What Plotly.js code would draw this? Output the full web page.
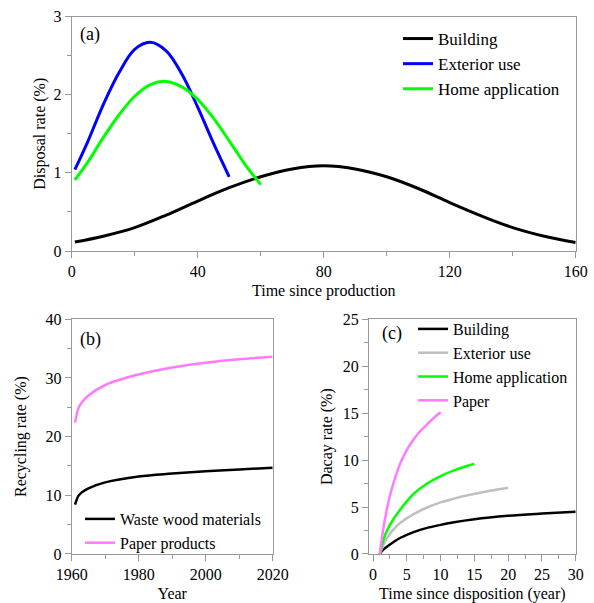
<!DOCTYPE html>
<html>
<head>
<meta charset="utf-8">
<script src="https://cdn.plot.ly/plotly-3.0.1.min.js"></script>
<style>html,body{margin:0;padding:0;background:#fff;}#chart{width:594px;height:603px;}</style>
</head>
<body>
<div id="chart"></div>
<script>
// Panel (a): disposal rate vs time since production
const aBuildingX = [1,10,20,30,40,50,60,70,80,90,100,110,120,130,140,150,160];
const aBuildingY = [0.115,0.19,0.30,0.46,0.64,0.81,0.95,1.05,1.09,1.05,0.95,0.80,0.62,0.45,0.30,0.19,0.11];
const aExteriorX = [1,5,10,15,20,25,30,35,40,45,50];
const aExteriorY = [1.04,1.39,1.87,2.28,2.58,2.67,2.56,2.26,1.84,1.38,0.95];
const aHomeX = [1,5,10,15,20,25,30,35,40,45,50,55,60];
const aHomeY = [0.91,1.13,1.45,1.74,1.98,2.13,2.17,2.10,1.94,1.70,1.41,1.11,0.85];

// Panel (b): recycling rate vs year
const bYears = [1961,1962,1963,1965,1970,1980,1990,2000,2010,2020];
const bWood  = [8.4,9.9,10.5,11.2,12.2,13.2,13.7,14.1,14.4,14.7];
const bPaper = [22.4,24.8,25.8,27.0,28.8,30.6,31.8,32.6,33.2,33.6];

// Panel (c): decay rate vs time since disposition
const cBuildingX = [1,1.5,2,3,4,6,8,10,12,15,20,25,30];
const cBuildingY = [0,0.45,0.75,1.25,1.7,2.33,2.78,3.1,3.38,3.7,4.06,4.3,4.5];
const cExteriorX = [1,1.5,2,3,4,6,8,10,12,14,16,18,20];
const cExteriorY = [0,0.9,1.6,2.6,3.3,4.25,4.95,5.5,5.9,6.25,6.55,6.82,7.05];
const cHomeX = [1,1.5,2,3,4,5,6,8,10,12,14,15];
const cHomeY = [0,1.4,2.4,3.7,4.7,5.6,6.4,7.5,8.3,8.9,9.4,9.6];
const cPaperX = [1,1.5,2,2.5,3,4,5,6,7,8,9,10];
const cPaperY = [0,2.6,4.6,6.2,7.5,9.6,11.1,12.2,13.1,13.8,14.5,15.1];

const FONT = "'Liberation Serif', 'Times New Roman', serif";
const BLACK = '#000000', BLUE = '#0000ff', GREEN = '#00ff00', PINK = '#ff7aff', GREY = '#c0c0c0';

function tr(x, y, name, color, w, xa, ya, leg) {
  return {x: x, y: y, name: name, type: 'scatter', mode: 'lines',
    line: {color: color, width: w, shape: 'spline', smoothing: 1},
    xaxis: xa, yaxis: ya, legend: leg, hoverinfo: 'skip'};
}

const data = [
  tr(aBuildingX, aBuildingY, 'Building', BLACK, 3, 'x', 'y', 'legend'),
  tr(aExteriorX, aExteriorY, 'Exterior use', BLUE, 3, 'x', 'y', 'legend'),
  tr(aHomeX, aHomeY, 'Home application', GREEN, 3, 'x', 'y', 'legend'),
  tr(bYears, bWood, 'Waste wood materials', BLACK, 2.5, 'x2', 'y2', 'legend2'),
  tr(bYears, bPaper, 'Paper products', PINK, 2.5, 'x2', 'y2', 'legend2'),
  tr(cBuildingX, cBuildingY, 'Building', BLACK, 2.5, 'x3', 'y3', 'legend3'),
  tr(cExteriorX, cExteriorY, 'Exterior use', GREY, 2.5, 'x3', 'y3', 'legend3'),
  tr(cHomeX, cHomeY, 'Home application', GREEN, 2.5, 'x3', 'y3', 'legend3'),
  tr(cPaperX, cPaperY, 'Paper', PINK, 2.5, 'x3', 'y3', 'legend3')
];

function ax(domain, range, dtick, minorDtick, title, standoff, anchor) {
  return {
    domain: domain, range: range, dtick: dtick, tick0: 0, anchor: anchor,
    showgrid: false, zeroline: false,
    showline: true, linecolor: '#999999', linewidth: 1, mirror: true,
    ticks: 'outside', ticklen: 6, tickcolor: '#999999', tickwidth: 1,
    minor: {dtick: minorDtick, ticks: 'outside', ticklen: 4, tickcolor: '#999999', showgrid: false},
    tickfont: {family: FONT, size: 16, color: '#000'},
    title: {text: title, font: {family: FONT, size: 16, color: '#000'}, standoff: standoff},
    automargin: false, fixedrange: true
  };
}

const legBase = {bgcolor: 'rgba(0,0,0,0)', borderwidth: 0, xanchor: 'left', yanchor: 'top',
  font: {family: FONT, size: 16, color: '#000'}, tracegroupgap: 0, itemwidth: 30};

const layout = {
  width: 594, height: 603,
  margin: {l: 0, r: 0, t: 0, b: 0},
  paper_bgcolor: '#fff', plot_bgcolor: '#fff',
  showlegend: true,
  xaxis:  ax([0.1207, 0.9692], [0, 160], 40, 20, 'Time since production', 5, 'y'),
  yaxis:  ax([0.5837, 0.9726], [0, 3], 1, 0.5, 'Disposal rate (%)', 3, 'x'),
  xaxis2: ax([0.1207, 0.4591], [1960, 2020], 20, 10, 'Year', 5, 'y2'),
  yaxis2: ax([0.0813, 0.4705], [0, 40], 10, 5, 'Recycling rate (%)', 14, 'x2'),
  xaxis3: ax([0.6212, 0.9692], [-0.6, 30], 5, 2.5, 'Time since disposition (year)', 5, 'y3'),
  yaxis3: ax([0.0813, 0.4705], [0, 25], 5, 2.5, 'Dacay rate (%)', 6, 'x3'),
  legend:  Object.assign({}, legBase, {x: 398/594, y: 1 - 21/603, font: {family: FONT, size: 17, color: '#000'}}),
  legend2: Object.assign({}, legBase, {x: 80/594, y: 1 - 502/603}),
  legend3: Object.assign({}, legBase, {x: 413/594, y: 1 - 312/603}),
  annotations: [
    {text: '(a)', xref: 'paper', yref: 'paper', x: 78/594, y: 1 - 35/603, xanchor: 'left', yanchor: 'middle', showarrow: false, font: {family: FONT, size: 18, color: '#000'}},
    {text: '(b)', xref: 'paper', yref: 'paper', x: 78/594, y: 1 - 339/603, xanchor: 'left', yanchor: 'middle', showarrow: false, font: {family: FONT, size: 18, color: '#000'}},
    {text: '(c)', xref: 'paper', yref: 'paper', x: 380/594, y: 1 - 333/603, xanchor: 'left', yanchor: 'middle', showarrow: false, font: {family: FONT, size: 18, color: '#000'}}
  ]
};

Plotly.newPlot('chart', data, layout, {displayModeBar: false, staticPlot: true});
</script>
</body>
</html>
